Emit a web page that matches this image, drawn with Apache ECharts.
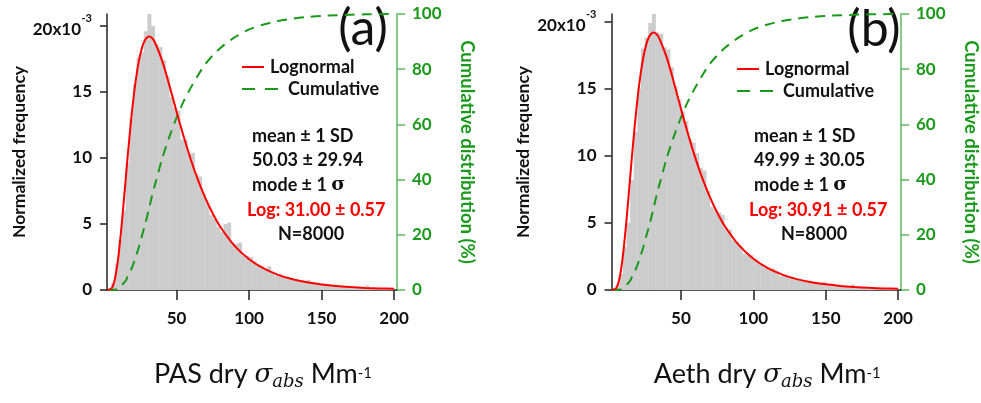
<!DOCTYPE html>
<html>
<head>
<meta charset="utf-8">
<script src="https://cdn.jsdelivr.net/npm/echarts@6/dist/echarts.min.js"></script>
<style>
  html, body { margin: 0; padding: 0; background: #fff; }
  #chart { width: 981px; height: 403px; }
</style>
</head>
<body>
<div id="chart"></div>
<script>
// histogram bins (centres, width 2.5 Mm-1)
const binCenters = [
  3.75, 6.25, 8.75, 11.25, 13.75, 16.25, 18.75, 21.25, 23.75, 26.25,
  28.75, 31.25, 33.75, 36.25, 38.75, 41.25, 43.75, 46.25, 48.75, 51.25,
  53.75, 56.25, 58.75, 61.25, 63.75, 66.25, 68.75, 71.25, 73.75, 76.25,
  78.75, 81.25, 83.75, 86.25, 88.75, 91.25, 93.75, 96.25, 98.75, 101.25,
  103.75, 106.25, 108.75, 111.25, 113.75, 116.25, 118.75, 121.25, 123.75, 126.25,
  128.75, 131.25, 133.75, 136.25, 138.75, 141.25, 143.75, 146.25, 148.75, 151.25,
  153.75, 156.25, 158.75, 161.25, 163.75, 166.25, 168.75, 171.25, 173.75, 176.25,
  178.75, 181.25, 183.75, 186.25, 188.75, 191.25, 193.75, 196.25, 198.75
];
// normalized frequency (x10^-3), PAS
const freqPAS = [
  0.05, 0.5, 2.0, 3.8, 6.0, 9.6, 13.0, 15.6, 17.6, 18.0,
  19.6, 20.9, 20.0, 18.6, 18.4, 17.4, 16.2, 14.6, 13.8, 13.6,
  11.4, 11.4, 10.3, 10.4, 8.8, 8.6, 7.3, 6.6, 5.7, 5.4,
  4.8, 4.4, 5.0, 5.1, 3.6, 3.5, 3.6, 2.6, 2.6, 2.5,
  2.2, 1.8, 1.8, 1.6, 1.8, 1.3, 1.1, 1.2, 1.0, 1.0,
  0.9, 0.8, 0.7, 0.6, 0.7, 0.75, 0.5, 0.5, 0.45, 0.4,
  0.45, 0.35, 0.3, 0.35, 0.25, 0.3, 0.2, 0.25, 0.2, 0.15,
  0.2, 0.35, 0.15, 0.12, 0.15, 0.1, 0.12, 0.1, 0.08
];
// normalized frequency (x10^-3), Aeth
const freqAeth = [
  0.05, 0.4, 1.2, 3.2, 5.0, 8.2, 11.8, 15.0, 18.0, 18.8,
  19.9, 20.57, 19.2, 19.1, 18.1, 17.9, 16.6, 15.2, 14.2, 13.3,
  12.6, 11.2, 11.0, 10.2, 9.1, 8.9, 7.4, 6.2, 6.0, 5.8,
  5.6, 4.6, 4.5, 3.7, 3.6, 3.3, 2.7, 2.6, 2.6, 2.3,
  2.0, 1.9, 1.7, 1.5, 1.6, 1.4, 1.05, 1.1, 1.0, 0.9,
  0.85, 0.8, 0.75, 0.65, 0.6, 0.55, 0.5, 0.45, 0.6, 0.4,
  0.35, 0.35, 0.3, 0.3, 0.28, 0.25, 0.4, 0.22, 0.2, 0.2,
  0.18, 0.15, 0.15, 0.14, 0.12, 0.12, 0.1, 0.1, 0.09
];

// lognormal fit and cumulative distribution
const curveX = [2, 5, 6, 7, 8, 9, 10, 11, 12, 13, 14, 15, 16, 17, 18, 20, 22, 24, 26, 28, 31, 33, 35, 40, 45, 50, 55, 60, 65, 70, 75, 80, 90, 100, 110, 120, 130, 140, 150, 160, 170, 180, 190, 200];
const lognormY = [0, 0.11, 0.30, 0.64, 1.14, 1.82, 2.68, 3.68, 4.80, 6.00, 7.26, 8.52, 9.80, 11.0, 12.16, 14.29, 16.01, 17.35, 18.29, 18.88, 19.19, 19.08, 18.76, 17.37, 15.50, 13.50, 11.58, 9.81, 8.26, 6.92, 5.78, 4.81, 3.34, 2.33, 1.63, 1.15, 0.81, 0.58, 0.42, 0.30, 0.22, 0.16, 0.12, 0.09];
const cumY = [0, 0, 0.05, 0.1, 0.2, 0.35, 0.6, 1.0, 1.4, 2.2, 2.8, 3.4, 4.6, 5.6, 6.6, 9.2, 12.3, 15.6, 19.5, 23.2, 29.5, 34, 38, 47.5, 55.5, 62.5, 68.5, 73.5, 78, 82, 85, 87.6, 91.5, 94.4, 96.2, 97.5, 98.3, 98.9, 99.3, 99.55, 99.75, 99.88, 99.95, 100];

const xTicks = [50, 100, 150, 200];
const yTicks = [0, 5, 10, 15, 20];

const statsPAS = ['mean \u00b1 1 SD', '50.03 \u00b1 29.94', 'mode \u00b1 1 ', 'Log: 31.00 \u00b1 0.57', 'N=8000'];
const statsAeth = ['mean \u00b1 1 SD', '49.99 \u00b1 30.05', 'mode \u00b1 1 ', 'Log: 30.91 \u00b1 0.57', 'N=8000'];

const FONT = 'Lato, "Open Sans", sans-serif';
const GREEN = '#1a9a1a';

const chart = echarts.init(document.getElementById('chart'));

const pair = (xs, ys) => xs.map((x, i) => [x, ys[i]]);

function xAxisFor(grid, label) {
  return {
    type: 'value', gridIndex: grid, min: 2, max: 202,
    name: `{n|${label} }{s|\u03c3}{sub|abs}{n| Mm}{sup|-1}`,
    nameLocation: 'middle', nameGap: 76,
    nameTextStyle: {
      padding: [0, 0, 0, 22],
      rich: {
        n: { fontFamily: FONT, fontSize: 27, color: '#111', lineHeight: 28, verticalAlign: 'bottom', padding: [0, 0, 6, 0] },
        s: { fontFamily: '"DejaVu Serif", serif', fontStyle: 'italic', fontSize: 26, color: '#111', lineHeight: 28, verticalAlign: 'bottom', padding: [0, 0, 6, 0] },
        sub: { fontFamily: '"DejaVu Serif", serif', fontStyle: 'italic', fontSize: 18, color: '#111', lineHeight: 18, verticalAlign: 'bottom', padding: [0, 0, 3, 0] },
        sup: { fontFamily: FONT, fontSize: 15, color: '#111', lineHeight: 16, verticalAlign: 'top' }
      }
    },
    axisLine: { onZero: false, lineStyle: { color: '#222', width: 1.5 } },
    axisTick: { length: 10, customValues: xTicks, lineStyle: { color: '#222', width: 1.5 } },
    axisLabel: { customValues: xTicks, margin: 20, fontFamily: FONT, fontWeight: 'bold', fontSize: 17, color: '#111' },
    splitLine: { show: false }
  };
}

function leftAxisFor(grid, max) {
  return {
    type: 'value', gridIndex: grid, min: 0, max: max, position: 'left',
    name: 'Normalized frequency', nameLocation: 'middle', nameGap: 79,
    nameTextStyle: { fontFamily: FONT, fontWeight: 'bold', fontSize: 17.5, color: '#111' },
    axisLine: { show: true, lineStyle: { color: '#222', width: 1.5 } },
    axisTick: { show: true, length: 7, customValues: yTicks, lineStyle: { color: '#222', width: 1.5 } },
    axisLabel: {
      customValues: yTicks, margin: 15,
      fontFamily: FONT, fontWeight: 'bold', fontSize: 17, color: '#111',
      // the top label carries the x10^-3 multiplier, superscript on its own short line
      formatter: (v) => (v === 20 ? '{sup|-3}\n{b|20x10}{sp| }' : String(v)),
      rich: {
        b: { fontFamily: FONT, fontWeight: 'bold', fontSize: 17, color: '#111', lineHeight: 14 },
        sp: { fontSize: 11, width: 11, lineHeight: 14 },
        sup: { fontFamily: FONT, fontWeight: 'bold', fontSize: 11, color: '#111', lineHeight: 8 }
      }
    },
    splitLine: { show: false }
  };
}

function rightAxisFor(grid) {
  return {
    type: 'value', gridIndex: grid, min: 0, max: 100, interval: 20, position: 'right',
    name: 'Cumulative distribution (%)', nameLocation: 'middle', nameGap: 60, nameRotate: -90,
    nameTextStyle: { fontFamily: FONT, fontWeight: 'bold', fontSize: 18.5, color: GREEN },
    axisLine: { show: true, lineStyle: { color: '#5cb85c', width: 1.5 } },
    axisTick: { show: true, length: 8, lineStyle: { color: '#5cb85c', width: 1.5 } },
    axisLabel: { margin: 15, fontFamily: FONT, fontWeight: 'bold', fontSize: 17, color: GREEN },
    splitLine: { show: false }
  };
}

function panelSeries(xi, yl, yr, freq) {
  return [
    {
      type: 'bar', name: 'hist', xAxisIndex: xi, yAxisIndex: yl,
      data: pair(binCenters, freq), barWidth: 4,
      itemStyle: { color: '#cccccc' }, silent: true, z: 1
    },
    {
      type: 'line', name: 'Lognormal', xAxisIndex: xi, yAxisIndex: yl,
      data: pair(curveX, lognormY), smooth: 0.3, symbol: 'none',
      lineStyle: { color: '#ff0000', width: 2 }, itemStyle: { color: '#ff0000' }, z: 3
    },
    {
      type: 'line', name: 'Cumulative', xAxisIndex: xi, yAxisIndex: yr,
      data: pair(curveX, cumY), smooth: 0.3, symbol: 'none',
      lineStyle: { color: GREEN, width: 2, type: [10, 7] }, itemStyle: { color: GREEN }, z: 2
    }
  ];
}

const legendText = { fontFamily: FONT, fontWeight: 'bold', fontSize: 18, color: '#111' };
function legendsAt(x, y) {
  return [
    { data: ['Lognormal'], left: x, top: y - 9, padding: 0, itemWidth: 22, itemHeight: 14, selectedMode: false,
      itemStyle: { opacity: 0 }, textStyle: Object.assign({ padding: [0, 0, 0, 1] }, legendText) },
    { data: ['Cumulative'], left: x, top: y + 13, padding: 0, itemWidth: 38, itemHeight: 14, selectedMode: false,
      itemStyle: { opacity: 0 }, lineStyle: { type: [13, 10] }, textStyle: Object.assign({ padding: [0, 0, 0, 3] }, legendText) }
  ];
}

function statsText(x, stats, nx) {
  const base = { fontFamily: FONT, fontWeight: 'bold', fontSize: 18, fill: '#111', verticalAlign: 'middle' };
  return [
    { type: 'text', x: x, y: 136, style: Object.assign({ text: stats[0] }, base) },
    { type: 'text', x: x, y: 160, style: Object.assign({ text: stats[1] }, base) },
    { type: 'text', x: x, y: 185, style: Object.assign({}, base, {
        text: `{a|${stats[2]}}{s|\u03c3}`,
        rich: {
          a: { fontFamily: FONT, fontWeight: 'bold', fontSize: 18, fill: '#111' },
          s: { fontFamily: '"DejaVu Serif", serif', fontWeight: 'bold', fontSize: 19, fill: '#111' }
        } }) },
    { type: 'text', x: x - 5, y: 210, style: Object.assign({}, base, { text: stats[3], fill: '#ff0000' }) },
    { type: 'text', x: nx, y: 234, style: Object.assign({ text: stats[4] }, base) }
  ];
}

chart.setOption({
  animation: false,
  grid: [
    { left: 107, top: 14, width: 290, height: 276 },
    { left: 611.5, top: 14, width: 290, height: 276 }
  ],
  xAxis: [xAxisFor(0, 'PAS dry'), xAxisFor(1, 'Aeth dry')],
  yAxis: [leftAxisFor(0, 20.9), rightAxisFor(0), leftAxisFor(1, 20.57), rightAxisFor(1)],
  legend: legendsAt(241, 67).concat(legendsAt(736, 69)),
  series: panelSeries(0, 0, 1, freqPAS).concat(panelSeries(1, 2, 3, freqAeth)),
  graphic: [
    { type: 'text', x: 363, y: 29, style: { text: '(a)', fontFamily: FONT, fontSize: 50, fill: '#111', align: 'center', verticalAlign: 'middle' } },
    { type: 'text', x: 874, y: 30, style: { text: '(b)', fontFamily: FONT, fontSize: 50, fill: '#111', align: 'center', verticalAlign: 'middle' } }
  ].concat(statsText(252, statsPAS, 278), statsText(754, statsAeth, 781))
});
</script>
</body>
</html>
